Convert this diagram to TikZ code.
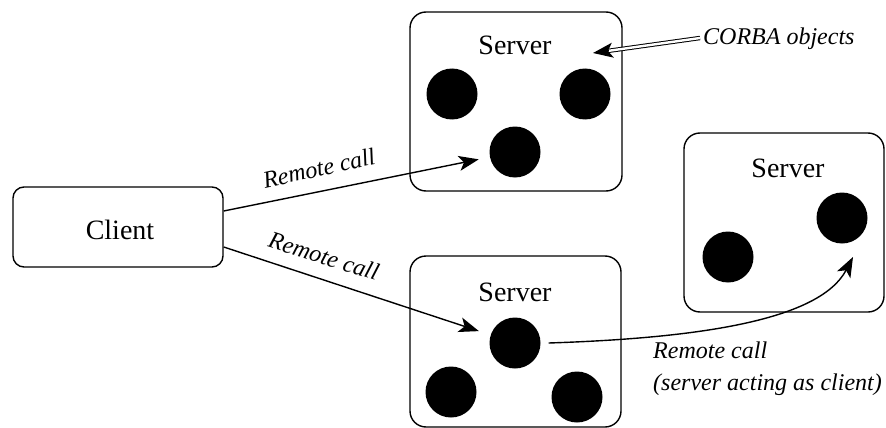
\documentclass[tikz,border=0pt]{standalone}
\usepackage{fontspec}
\setmainfont{Liberation Serif}
\usetikzlibrary{arrows.meta,calc}
\begin{document}
\begin{tikzpicture}[x=1pt,y=-1pt,
  box/.style={draw,line width=1.4pt,rounded corners=16pt,inner sep=0pt},
  obj/.style={circle,fill=black,inner sep=0pt,minimum size=51pt},
  big/.style={font=\fontsize{28}{32}\selectfont,inner sep=0pt},
  lab/.style={font=\fontsize{24}{32}\selectfont\itshape,inner sep=0pt},
  arr/.style={line width=1.4pt,-{Stealth[length=20pt,width=15pt,inset=5pt]}}]
\useasboundingbox (0,0) rectangle (886,428);
% boxes
\node[box,rounded corners=11pt,minimum width=210pt,minimum height=80pt] (client) at (118,227) {};
\node[big,anchor=base] (clientlbl) at (120,239) {Client};
\node[box,minimum width=212pt,minimum height=179pt] (s1) at (516,101.5) {};
\node[big,anchor=base] (s1lbl) at (515,55) {Server};
\node[box,minimum width=211pt,minimum height=171pt] (s2) at (515.5,341.5) {};
\node[big,anchor=base] (s2lbl) at (515,301) {Server};
\node[box,minimum width=200pt,minimum height=179pt] (s3) at (784,222.5) {};
\node[big,anchor=base] (s3lbl) at (788,177) {Server};
% objects
\node[obj] (c1a) at (452,94) {};
\node[obj] (c1c) at (585,94) {};
\node[obj] (c1b) at (515,152) {};
\node[obj] (c2a) at (515,343) {};
\node[obj] (c2b) at (451,392) {};
\node[obj] (c2c) at (577,397) {};
\node[obj] (c3a) at (728,257) {};
\node[obj] (c3b) at (842,218) {};
% remote calls
\draw[arr,shorten >=37pt] ($(client.east)+(0,-16)$) -- (c1b.center);
\draw[arr,shorten >=38pt] ($(client.east)+(0,20)$) -- (c2a.center);
\node[lab,rotate=12.4] (rc1) at (319,168) {Remote call};
\node[lab,rotate=-17.4] (rc2) at (324,256) {Remote call};
\coordinate (curveend) at ($(c3b.center)+(11,39)$);
\draw[arr] ($(c2a.east)+(8,0)$) .. controls +(152,-5) and +(-33,63) .. (curveend);
\node[lab,anchor=north west,align=left] (rc3) at (653,342) {Remote call\\(server acting as client)};
% CORBA objects pointer
\node[lab,anchor=base west] (corba) at (703,45) {CORBA objects};
\coordinate (corbaS) at (700,38);
\coordinate (corbaT) at (593,53);
\draw[double,double distance=2.4pt,line width=1pt] (corbaS) -- ($(corbaT)!14pt!(corbaS)$);
\draw[line width=1.4pt,-{Stealth[length=20pt,width=15pt,inset=5pt]}] ($(corbaT)!16pt!(corbaS)$) -- (corbaT);
\end{tikzpicture}
\end{document}
